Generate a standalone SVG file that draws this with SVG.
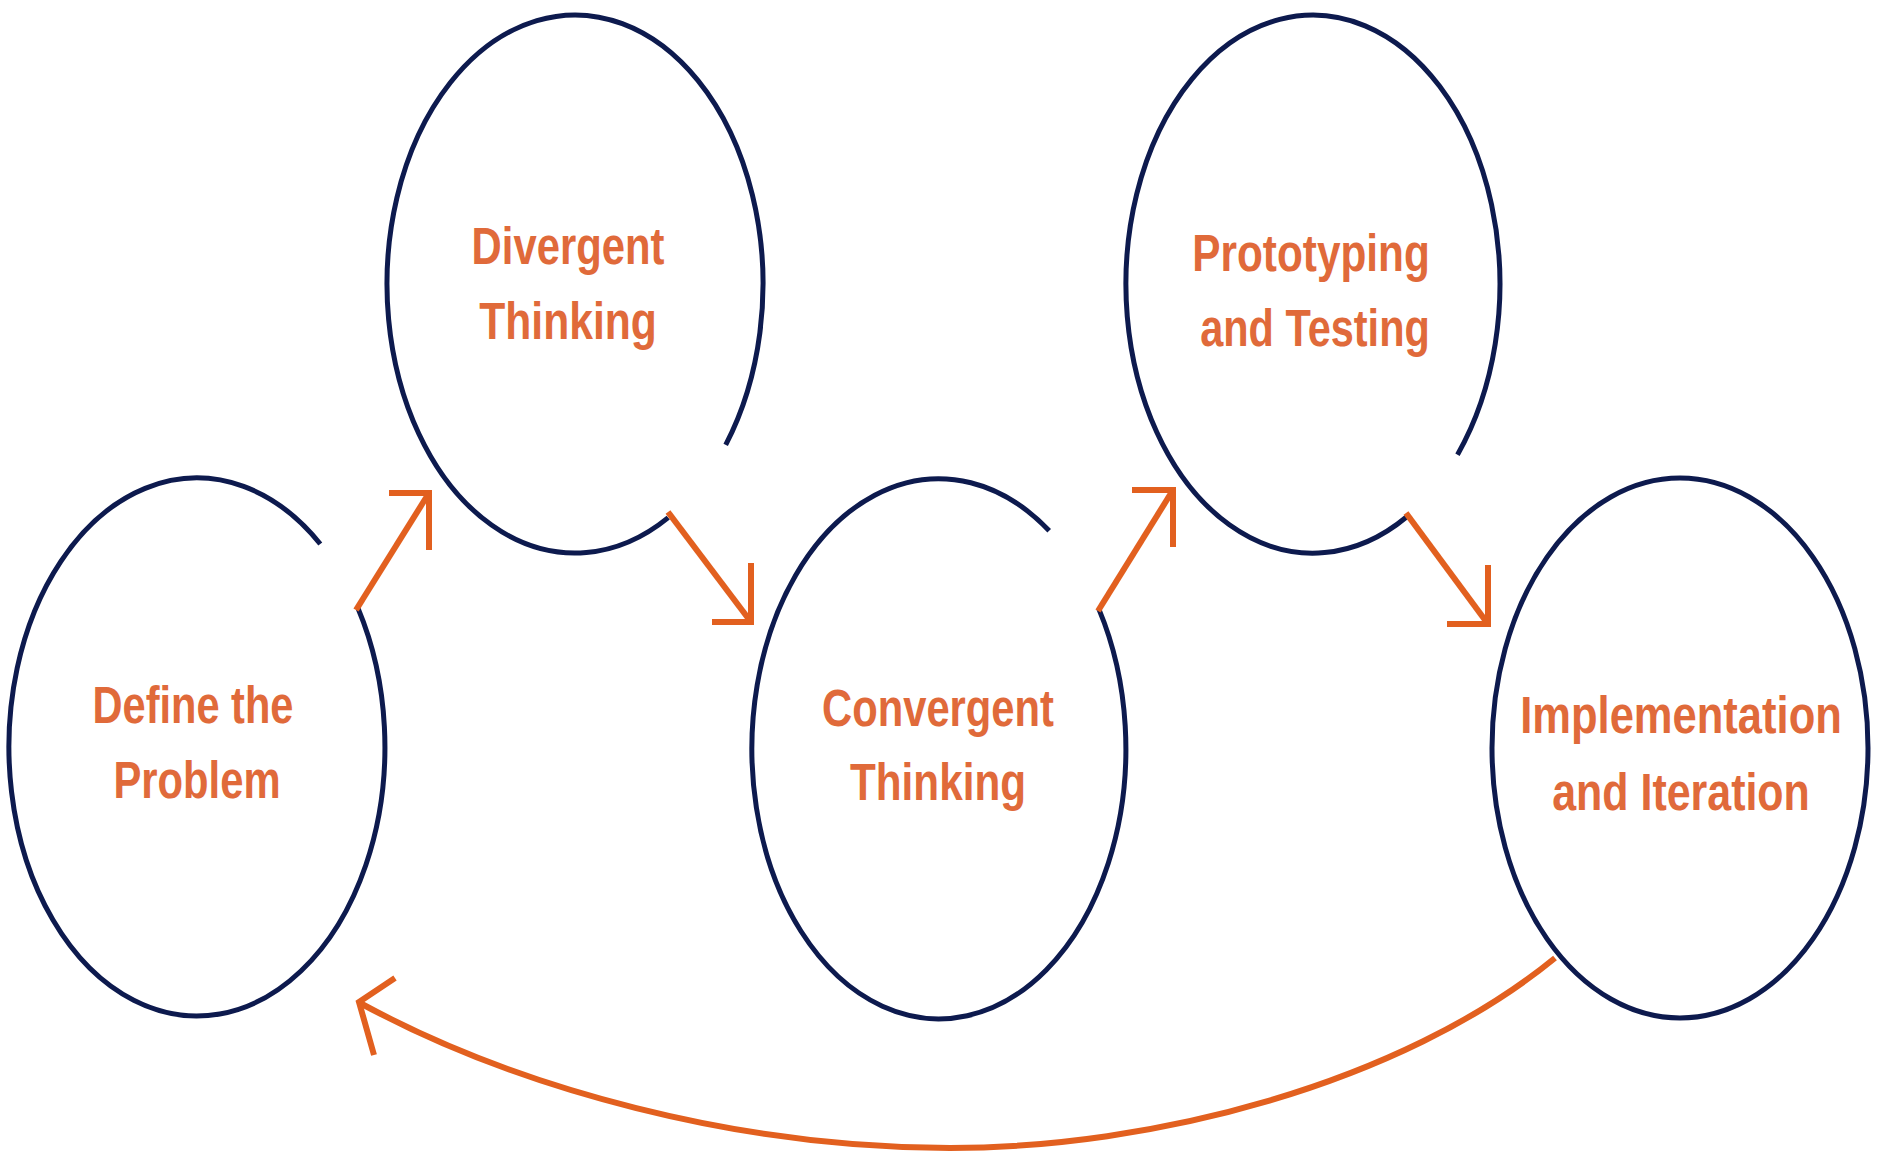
<svg xmlns="http://www.w3.org/2000/svg" width="1878" height="1154" viewBox="0 0 1878 1154">
<style>
.ring{fill:none;stroke:#0d1a4e;stroke-width:5}
.lbl{font-family:"Liberation Sans",Arial,sans-serif;font-weight:bold;font-size:52px;fill:#e06a3a;text-anchor:middle}
.con{fill:none;stroke:#e2601f;stroke-width:6;stroke-linecap:butt;stroke-linejoin:miter}
</style>
<rect width="1878" height="1154" fill="#ffffff"/>
<g id="node-define">
<path class="ring" d="M 320.3 544 A 188 269 0 1 0 358.1 608.5"/>
<text class="lbl" transform="translate(193,723) scale(0.8,1)" x="0" y="0" textLength="251" lengthAdjust="spacingAndGlyphs">Define the</text>
<text class="lbl" transform="translate(197,798) scale(0.8,1)" x="0" y="0" textLength="209" lengthAdjust="spacingAndGlyphs">Problem</text>
</g>
<g id="node-divergent">
<path class="ring" d="M 668.2 517.6 A 188 269 0 1 1 725.7 444.8"/>
<text class="lbl" transform="translate(568,264) scale(0.8,1)" x="0" y="0" textLength="241" lengthAdjust="spacingAndGlyphs">Divergent</text>
<text class="lbl" transform="translate(568,339) scale(0.8,1)" x="0" y="0" textLength="222" lengthAdjust="spacingAndGlyphs">Thinking</text>
</g>
<g id="node-convergent">
<path class="ring" d="M 1049.2 530.8 A 187 270 0 1 0 1098.9 609.1"/>
<text class="lbl" transform="translate(938,726) scale(0.8,1)" x="0" y="0" textLength="290" lengthAdjust="spacingAndGlyphs">Convergent</text>
<text class="lbl" transform="translate(938,800) scale(0.8,1)" x="0" y="0" textLength="220" lengthAdjust="spacingAndGlyphs">Thinking</text>
</g>
<g id="node-prototyping">
<path class="ring" d="M 1406.5 517 A 187 269 0 1 1 1457.5 454.7"/>
<text class="lbl" transform="translate(1311,271) scale(0.8,1)" x="0" y="0" textLength="297" lengthAdjust="spacingAndGlyphs">Prototyping</text>
<text class="lbl" transform="translate(1315,346) scale(0.8,1)" x="0" y="0" textLength="287" lengthAdjust="spacingAndGlyphs">and Testing</text>
</g>
<g id="node-implementation">
<ellipse class="ring" cx="1680" cy="748" rx="188" ry="270"/>
<text class="lbl" transform="translate(1681,733) scale(0.8,1)" x="0" y="0" textLength="402" lengthAdjust="spacingAndGlyphs">Implementation</text>
<text class="lbl" transform="translate(1681,810) scale(0.8,1)" x="0" y="0" textLength="322" lengthAdjust="spacingAndGlyphs">and Iteration</text>
</g>
<g id="connectors">
<path class="con" d="M 356 610 L 429 493"/>
<polyline class="con" points="389,493 429,493 429,550"/>
<path class="con" d="M 668 512 L 751 622"/>
<polyline class="con" points="712,622 751,622 751,563"/>
<path class="con" d="M 1098 611 L 1173 490"/>
<polyline class="con" points="1132,490 1173,490 1173,547"/>
<path class="con" d="M 1406 513 L 1488 624"/>
<polyline class="con" points="1447,624 1488,624 1488,565"/>
<path class="con" d="M 1555 958 C 1400 1085, 1150 1148, 950 1148 C 740 1148, 520 1090, 360 1003"/>
<polyline class="con" points="395,978 359,1002 374,1055"/>
</g>
</svg>
